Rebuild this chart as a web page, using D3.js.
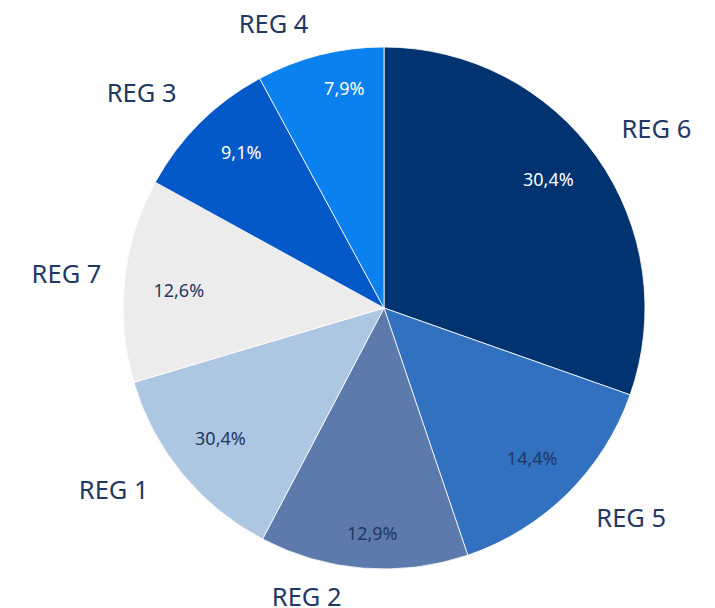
<!DOCTYPE html>
<html>
<head>
<meta charset="utf-8">
<script src="https://cdn.jsdelivr.net/npm/d3@7"></script>
<style>
  body { margin: 0; background: #fff; }
  svg { display: block; font-family: "Noto Sans", "Open Sans", sans-serif; }
</style>
</head>
<body>
<svg id="chart" width="715" height="608"></svg>
<script>
// slices clockwise from 12 o'clock
const regions = ["REG 6", "REG 5", "REG 2", "REG 1", "REG 7", "REG 3", "REG 4"];
const shares = [30.4, 14.4, 12.9, 12.7, 12.6, 9.1, 7.9];
// labels as printed on the chart (REG 1 reads 30,4%)
const pctLabels = ["30,4%", "14,4%", "12,9%", "30,4%", "12,6%", "9,1%", "7,9%"];
const sliceColors = ["#00336f", "#3271c0", "#5c7bac", "#adc6e2", "#ececec", "#0558c8", "#0b80ef"];
const pctColors = ["#ffffff", "#1f3864", "#1f3864", "#1f3864", "#1f3864", "#ffffff", "#ffffff"];

const cx = 384, cy = 308, R = 261;
// labels in the source chart are nudged off the slice mid-angle a little (degrees)
const nameShift = [2, -5, 10.5, 5.5, 0, -3.6, -7];
const pctShift = [-2.8, 0, -1.5, 1, -1.2, 2.4, 4];
const rad = Math.PI / 180;

const svg = d3.select("#chart");
const g = svg.append("g").attr("transform", `translate(${cx},${cy})`);

const pie = d3.pie().value(d => d).sort(null);
const arcs = pie(shares);

const arc = d3.arc().innerRadius(0).outerRadius(R);
const mid = d => (d.startAngle + d.endAngle) / 2;

g.selectAll("path.slice")
  .data(arcs)
  .enter()
  .append("path")
  .attr("class", "slice")
  .attr("d", arc)
  .attr("fill", (d, i) => sliceColors[i])
  .attr("stroke", "#ffffff")
  .attr("stroke-width", 0.8);

g.selectAll("text.pct")
  .data(arcs)
  .enter()
  .append("text")
  .attr("class", "pct")
  .attr("text-anchor", "middle")
  .attr("dominant-baseline", "central")
  .attr("transform", (d, i) => {
    const a = mid(d) + pctShift[i] * rad;
    const c = Math.cos(a);
    const r = 206 + 19 * c * c * c * c;
    return `translate(${Math.sin(a) * r},${-c * r})`;
  })
  .style("font-size", "18px")
  .style("fill", (d, i) => pctColors[i])
  .text((d, i) => pctLabels[i]);

// category labels sit just outside the rim, pushed out by their box size
const names = g.selectAll("text.name")
  .data(arcs)
  .enter()
  .append("text")
  .attr("class", "name")
  .attr("text-anchor", "middle")
  .attr("dy", "0.36em")
  .style("font-size", "25.5px")
  .style("fill", "#1f3864")
  .text((d, i) => regions[i]);

names.attr("transform", function(d, i) {
  const a = mid(d) + nameShift[i] * rad;
  const b = this.getBBox();
  const s = Math.sin(a), c = Math.cos(a);
  const r = R + 20 + Math.abs(s) * b.width / 2 + 34 * Math.abs(s * c);
  return `translate(${s * r},${-c * r})`;
});
</script>
</body>
</html>
